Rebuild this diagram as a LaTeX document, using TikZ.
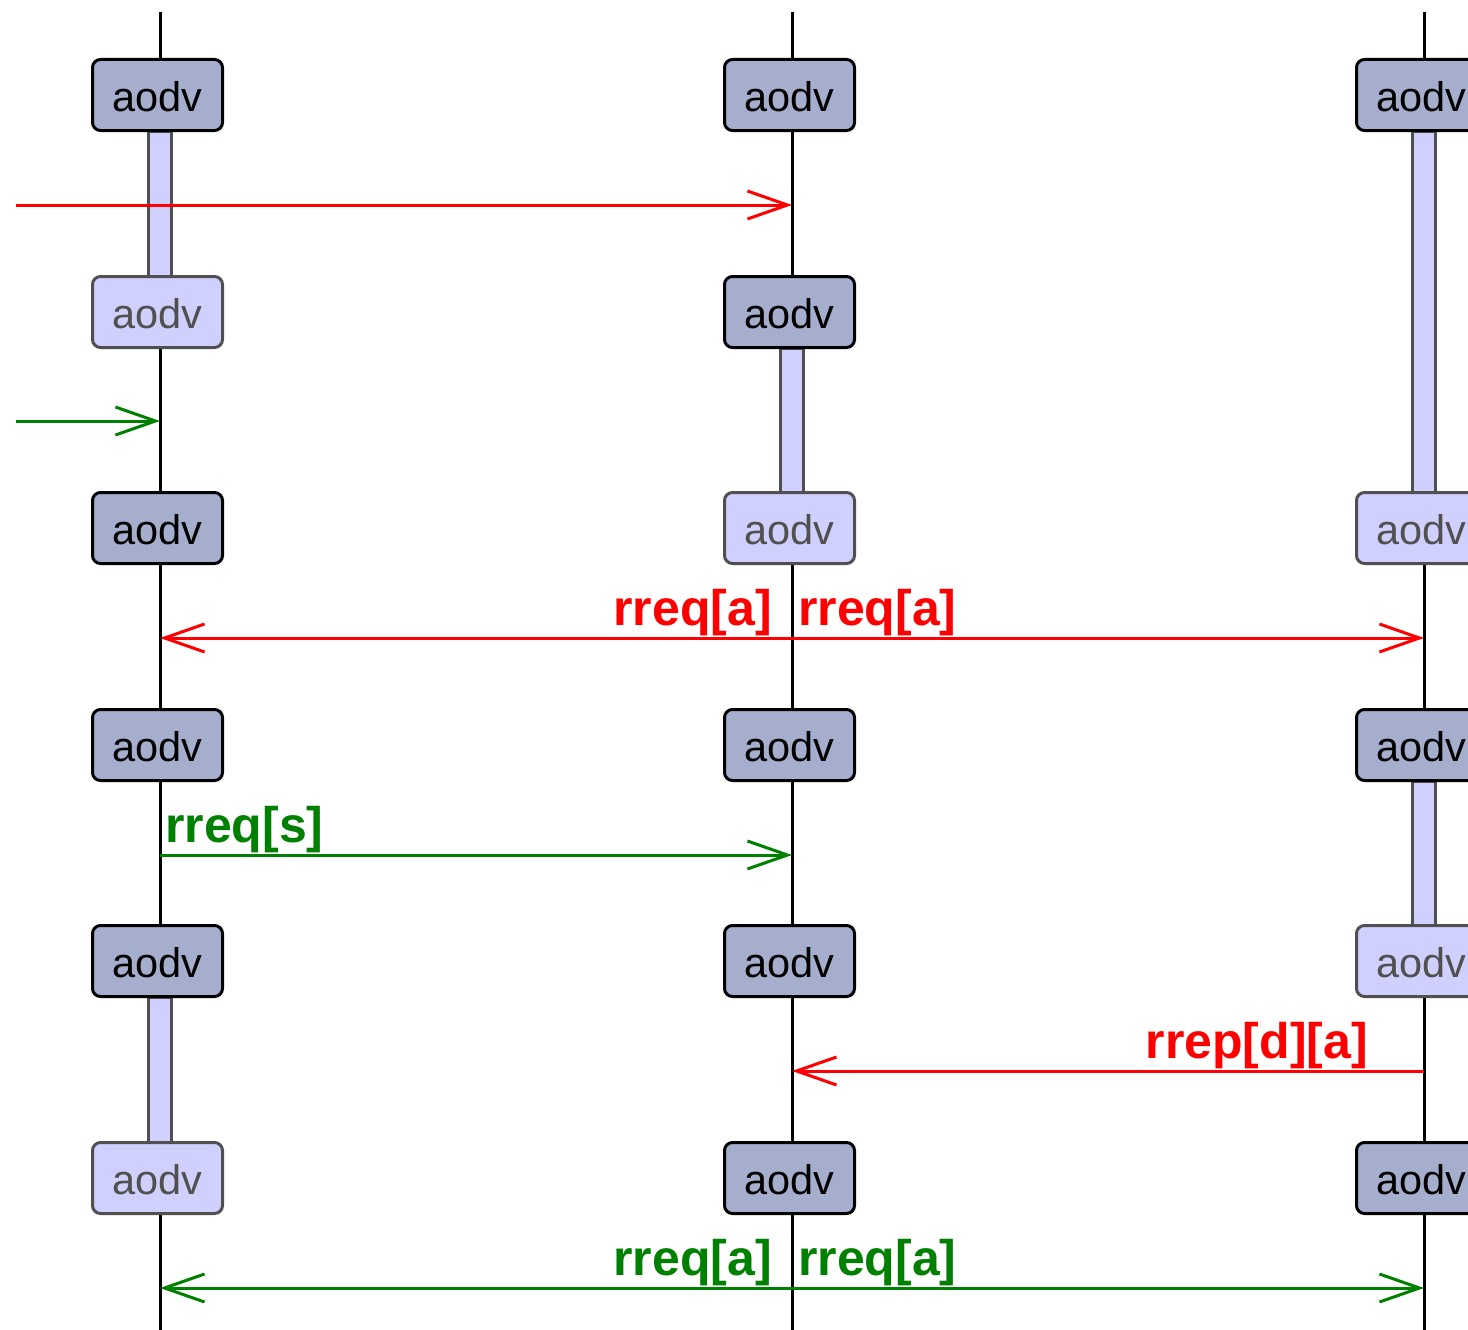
\documentclass[tikz,border=0pt]{standalone}
\usepackage{fontspec}
\setmainfont{Liberation Sans}
\usetikzlibrary{arrows.meta}
\definecolor{darkbox}{RGB}{166,174,206}
\definecolor{lightbox}{RGB}{208,208,255}
\definecolor{graybd}{RGB}{80,80,80}
\definecolor{msgred}{RGB}{255,0,0}
\definecolor{msggreen}{RGB}{0,128,0}
\tikzset{
  boxbase/.style={rounded corners=8pt, line width=3pt, minimum width=130pt, minimum height=71pt, inner sep=0pt, text height=33pt, text depth=0pt, font=\fontsize{41.5}{48}\selectfont},
  activebox/.style={boxbase, draw=black, fill=darkbox, text=black},
  idlebox/.style={boxbase, draw=graybd, fill=lightbox, text=graybd},
  lifeline/.style={line width=3pt, draw=black},
  actbar/.style={line width=3pt, draw=graybd, fill=lightbox},
  msg/.style={line width=3pt, -{Straight Barb[length=40pt,width=28pt]}},
  msgd/.style={line width=3pt, {Straight Barb[length=40pt,width=28pt]}-{Straight Barb[length=40pt,width=28pt]}},
  lbl/.style={font=\bfseries\fontsize{50}{56}\selectfont, inner sep=0pt},
}
\begin{document}
\begin{tikzpicture}[x=1pt,y=-1pt]
\useasboundingbox (0,0) rectangle (1468,1330);
% lifelines
\foreach \c/\x in {1/160,2/792,3/1424}{
  \coordinate (top\c) at (\x,12);
  \coordinate (bot\c) at (\x,1330);
  \draw[lifeline] (top\c) -- (bot\c);
}
% activation bars
\draw[actbar] (148.5,131) rectangle (171.5,276);
\draw[actbar] (1412.5,131) rectangle (1435.5,492);
\draw[actbar] (780.5,348) rectangle (803.5,492);
\draw[actbar] (1412.5,781) rectangle (1435.5,925);
\draw[actbar] (148.5,997) rectangle (171.5,1142);
% boxes
\node[activebox] (a1) at (157.5,95) {aodv};
\node[activebox] (a2) at (789.5,95) {aodv};
\node[activebox] (a3) at (1421.5,95) {aodv};
\node[idlebox] (b1) at (157.5,312) {aodv};
\node[activebox] (b2) at (789.5,312) {aodv};
\node[activebox] (c1) at (157.5,528) {aodv};
\node[idlebox] (c2) at (789.5,528) {aodv};
\node[idlebox] (c3) at (1421.5,528) {aodv};
\node[activebox] (d1) at (157.5,745) {aodv};
\node[activebox] (d2) at (789.5,745) {aodv};
\node[activebox] (d3) at (1421.5,745) {aodv};
\node[activebox] (e1) at (157.5,961) {aodv};
\node[activebox] (e2) at (789.5,961) {aodv};
\node[idlebox] (e3) at (1421.5,961) {aodv};
\node[idlebox] (f1) at (157.5,1178) {aodv};
\node[activebox] (f2) at (789.5,1178) {aodv};
\node[activebox] (f3) at (1421.5,1178) {aodv};
% message end points
\coordinate (m1s) at (16,205);   \coordinate (m1e) at (792,205);
\coordinate (m2s) at (16,421);   \coordinate (m2e) at (160,421);
\coordinate (m3l) at (160,638);  \coordinate (m3m) at (792,638);  \coordinate (m3r) at (1424,638);
\coordinate (m4s) at (160,855);  \coordinate (m4e) at (792,855);
\coordinate (m5s) at (1424,1071); \coordinate (m5e) at (792,1071);
\coordinate (m6l) at (160,1288); \coordinate (m6m) at (792,1288); \coordinate (m6r) at (1424,1288);
% messages
\draw[msg, msgred] (m1s) -- (m1e);
\draw[msg, msggreen] (m2s) -- (m2e);
\draw[msgd, msgred] (m3l) -- (m3r);
\draw[msg, msggreen] (m4s) -- (m4e);
\draw[msg, msgred] (m5s) -- (m5e);
\draw[msgd, msggreen] (m6l) -- (m6r);
% labels
\node[lbl, text=msgred, anchor=base east] (t3a) at (772,625) {rreq[a]};
\node[lbl, text=msgred, anchor=base west] (t3b) at (798,625) {rreq[a]};
\node[lbl, text=msggreen, anchor=base west] (t4) at (165,842) {rreq[s]};
\node[lbl, text=msgred, anchor=base east] (t5) at (1368,1058) {rrep[d][a]};
\node[lbl, text=msggreen, anchor=base east] (t6a) at (772,1275) {rreq[a]};
\node[lbl, text=msggreen, anchor=base west] (t6b) at (798,1275) {rreq[a]};
\end{tikzpicture}
\end{document}
